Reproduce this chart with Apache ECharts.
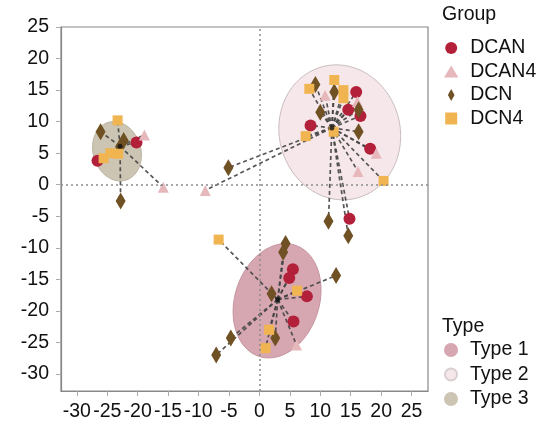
<!DOCTYPE html>
<html><head><meta charset="utf-8">
<script src="https://cdn.jsdelivr.net/npm/echarts@6/dist/echarts.min.js"></script>
<style>html,body{margin:0;padding:0;background:#fff}#c{width:541px;height:425px}</style>
</head><body><div id="c"></div>
<script>
// ---- data ----
const groupNames = ['DCAN', 'DCAN4', 'DCN', 'DCN4'];
const typeNames = ['Type 1', 'Type 2', 'Type 3'];
const xTicks = [-30, -25, -20, -15, -10, -5, 0, 5, 10, 15, 20, 25];
const yTicks = [-30, -25, -20, -15, -10, -5, 0, 5, 10, 15, 20, 25];
// points: [x, y, typeIndex]
const dcan = [
  [-20.2, 6.7, 2], [-26.6, 3.8, 2],
  [15.9, 14.7, 1], [14.6, 11.9, 1], [16.6, 10.9, 1], [8.4, 9.4, 1], [18.2, 5.7, 1], [14.8, -5.4, 1],
  [5.5, -13.4, 0], [4.9, -14.8, 0], [7.8, -17.7, 0], [5.6, -21.7, 0]
];
const dcan4 = [
  [-18.9, 7.9, 2], [-15.8, -0.4, 2],
  [10.8, 14.2, 1], [16.1, 13.2, 1], [19.2, 5.0, 1], [16.2, 2.1, 1], [-8.9, -0.9, 1],
  [6.1, -25.4, 0]
];
const dcn = [
  [-26.1, 8.4, 2], [-22.9, 6.0, 2], [-22.3, 7.0, 2], [-22.8, -2.6, 2],
  [9.2, 15.9, 1], [12.3, 14.7, 1], [16.3, 11.9, 1], [10.0, 11.5, 1], [16.3, 8.4, 1], [-5.1, 2.7, 1], [11.35, -5.8, 1], [14.6, -8.1, 1],
  [4.3, -9.3, 0], [3.9, -10.7, 0], [12.6, -14.4, 0], [2.0, -17.3, 0], [2.6, -24.3, 0], [-4.7, -24.3, 0], [-7.1, -27.0, 0]
];
const dcn4 = [
  [-23.3, 10.2, 2], [-25.6, 4.2, 2], [-24.5, 5.0, 2], [-23.2, 4.9, 2],
  [8.2, 15.2, 1], [12.3, 16.6, 1], [13.8, 15.0, 1], [13.8, 13.7, 1], [7.6, 7.7, 1], [12.2, 8.4, 1], [20.4, 0.6, 1],
  [-6.7, -8.7, 0], [6.2, -16.8, 0], [1.6, -23.0, 0], [1.0, -25.9, 0]
];
// spider centres per type
const typeCenters = [[3.0, -18.2], [11.9, 9.0], [-22.9, 6.1]];
// ellipse per type: [cx, cy, semiMajor, semiMinor, angleDeg]
const typeEllipses = [
  [2.9, -18.4, 9.3, 6.9, 70],
  [13.2, 8.3, 10.8, 9.9, 110],
  [-23.4, 5.3, 4.8, 3.9, 110]
];

// ---- chart ----
const FONT = "'Liberation Sans', Arial, sans-serif";
const groupData = [dcan, dcan4, dcn, dcn4];
const groupColors = ['#b3203a', '#e6b8bc', '#6f5124', '#f0b550'];
const groupSymbols = ['circle', 'triangle', 'diamond', 'rect'];
const groupSizes = [12, 11, [10, 17], 10];
const typeFill = ['#d6a6b1', '#f6e8ea', '#cdc5b3'];
const typeStroke = ['#c4939f', '#c9bcbe', '#b9b2a0'];
const typeLegendBorder = ['#d6a6b1', '#d9cfd0', '#cdc5b3'];

const links = [];
groupData.forEach(arr => arr.forEach(p => {
  const c = typeCenters[p[2]];
  links.push([c[0], c[1], p[0], p[1]]);
}));

const series = [];
typeNames.forEach((name, i) => {
  series.push({
    name: name, type: 'custom', z: 1, silent: true,
    itemStyle: { color: typeFill[i], borderColor: typeLegendBorder[i], borderWidth: 1 },
    data: [typeEllipses[i]],
    renderItem: (params, api) => {
      const cx = api.value(0), cy = api.value(1), a = api.value(2), b = api.value(3);
      const ang = api.value(4) * Math.PI / 180;
      const pts = [];
      for (let k = 0; k < 120; k++) {
        const t = k / 120 * 2 * Math.PI;
        const dx = a * Math.cos(t), dy = b * Math.sin(t);
        pts.push(api.coord([cx + dx * Math.cos(ang) - dy * Math.sin(ang), cy + dx * Math.sin(ang) + dy * Math.cos(ang)]));
      }
      return { type: 'polygon', shape: { points: pts }, style: { fill: typeFill[i], stroke: typeStroke[i], lineWidth: 1 } };
    }
  });
});
series.push({
  name: 'links', type: 'custom', z: 2, silent: true, data: links,
  renderItem: (params, api) => {
    const p1 = api.coord([api.value(0), api.value(1)]);
    const p2 = api.coord([api.value(2), api.value(3)]);
    return { type: 'line', shape: { x1: p1[0], y1: p1[1], x2: p2[0], y2: p2[1] },
      style: { stroke: '#444', lineWidth: 1.7, lineDash: [4, 3], opacity: 0.9 } };
  },
  markLine: {
    silent: true, symbol: 'none', label: { show: false },
    lineStyle: { type: [2, 3], color: '#8c8c8c', width: 1.5 },
    data: [{ xAxis: 0 }, { yAxis: 0 }]
  }
});
groupNames.forEach((name, i) => {
  series.push({
    name: name, type: 'scatter', z: 3,
    symbol: groupSymbols[i], symbolSize: groupSizes[i],
    itemStyle: { color: groupColors[i], opacity: 1 },
    data: groupData[i].map(p => [p[0], p[1]])
  });
});
series.push({
  name: 'centers', type: 'scatter', z: 4, symbol: 'circle', symbolSize: 5,
  itemStyle: { color: '#111' }, data: typeCenters
});

const chart = echarts.init(document.getElementById('c'), null, { renderer: 'canvas' });
chart.setOption({
  animation: false,
  backgroundColor: '#fff',
  textStyle: { fontFamily: FONT },
  grid: { left: 61, right: 113, top: 27, bottom: 34, show: true, borderColor: '#888', borderWidth: 1.2, backgroundColor: 'transparent' },
  xAxis: {
    type: 'value', min: -32.6, max: 27.7,
    axisLine: { show: true, onZero: false, lineStyle: { color: '#888', width: 1.2 } },
    axisTick: { show: true, inside: false, length: 5, customValues: xTicks, lineStyle: { color: '#aaa' } },
    axisLabel: { customValues: xTicks, margin: 11, fontSize: 19.5, color: '#111', fontFamily: FONT },
    splitLine: { show: false }
  },
  yAxis: {
    type: 'value', min: -32.7, max: 25,
    axisLine: { show: true, onZero: false, lineStyle: { color: '#888', width: 1.2 } },
    axisTick: { show: true, inside: false, length: 5, customValues: yTicks, lineStyle: { color: '#aaa' } },
    axisLabel: { customValues: yTicks, margin: 12, fontSize: 19.5, color: '#111', fontFamily: FONT },
    splitLine: { show: false }
  },
  legend: [
    {
      orient: 'vertical', left: 444, top: 38, padding: 0, itemGap: 3.5, itemWidth: 28, itemHeight: 12,
      selectedMode: false,
      textStyle: { fontSize: 19.5, color: '#111', fontFamily: FONT },
      data: [
        { name: 'DCAN', icon: 'circle' },
        { name: 'DCAN4', icon: 'path://M6 0L12 10L0 10Z' },
        { name: 'DCN', icon: 'path://M5 0L10 9L5 18L0 9Z' },
        { name: 'DCN4', icon: 'path://M0 0L10 0L10 10L0 10Z' }
      ]
    },
    {
      orient: 'vertical', left: 444, top: 340, padding: 0, itemGap: 4.5, itemWidth: 28, itemHeight: 12,
      selectedMode: false,
      textStyle: { fontSize: 19.5, color: '#111', fontFamily: FONT },
      data: typeNames.map(n => ({ name: n, icon: 'circle' }))
    }
  ],
  graphic: [
    { type: 'text', left: 442, top: 5, style: { text: 'Group', font: '19.5px ' + FONT, fill: '#111' } },
    { type: 'text', left: 442, top: 317, style: { text: 'Type', font: '19.5px ' + FONT, fill: '#111' } }
  ],
  series: series
});
</script>
</body></html>
